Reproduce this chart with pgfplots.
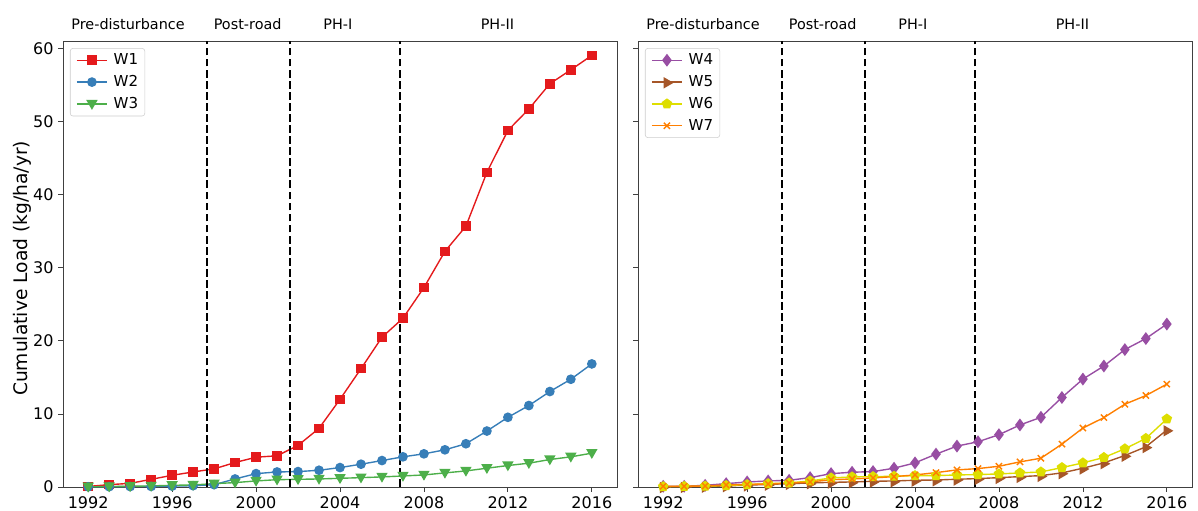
\documentclass[border=0pt]{standalone}
\usepackage{fontspec}
\setmainfont{DejaVu Sans}
\usepackage{pgfplots}
\pgfplotsset{compat=1.18}
\definecolor{cW1}{HTML}{E41A1C}
\definecolor{cW2}{HTML}{377EB8}
\definecolor{cW3}{HTML}{4DAF4A}
\definecolor{cW4}{HTML}{984EA3}
\definecolor{cW5}{HTML}{A65628}
\definecolor{cW6}{HTML}{DEDE00}
\definecolor{cW7}{HTML}{FF7F00}
\pgfplotsset{
  panel/.style={
    scale only axis, width=415.5pt, height=334.5pt,
    xmin=1990.8, xmax=2017.2, ymin=0, ymax=61.05,
    xtick={1992,1996,...,2016}, ytick={0,10,...,60},
    tick align=outside, tick pos=left, major tick length=3.6pt,
    minor tick num=0,
    /pgf/number format/assume math mode=true,
    /pgf/number format/1000 sep={},
    tick label style={font=\fontsize{12}{14}\selectfont},
    axis line style={black!75, line width=0.6pt},
    every tick/.style={black!75, line width=0.6pt},
    clip=false,
    legend style={at={(0.0126,0.984)}, anchor=north west, draw=black!20,
      rounded corners=2pt, fill=white,
      font=\fontsize{11.3}{13}\selectfont, cells={anchor=west}, row sep=2.6pt},
    legend image code/.code={\draw[mark repeat=2,mark phase=2] plot coordinates {(0pt,0pt)(11.25pt,0pt)(22.5pt,0pt)};
      \path (-1.5pt,0pt) (25pt,0pt);},
  },
  ser/.style={color=#1, line width=1.04pt, mark options={solid, fill=#1, draw=#1}},
  vline/.style={black, line width=1.56pt, dash pattern=on 5.8pt off 2.5pt, forget plot, mark=none},
}
\newcommand{\phaselabels}{%
  \node[anchor=base, font=\fontsize{10.8}{12}\selectfont] at (axis cs:1993.9,62.6) {Pre-disturbance};
  \node[anchor=base, font=\fontsize{10.8}{12}\selectfont] at (axis cs:1999.6,62.6) {Post-road};
  \node[anchor=base, font=\fontsize{10.8}{12}\selectfont] at (axis cs:2003.9,62.6) {PH-I};
  \node[anchor=base, font=\fontsize{10.8}{12}\selectfont] at (axis cs:2011.5,62.6) {PH-II};
}
\newcommand{\vlines}{%
  \addplot[vline] coordinates {(1997.65,0) (1997.65,61.05)};
  \addplot[vline] coordinates {(2001.6,0) (2001.6,61.05)};
  \addplot[vline] coordinates {(2006.85,0) (2006.85,61.05)};
}
\begin{document}
\begin{tikzpicture}
\useasboundingbox (-47.25pt,-17.25pt) rectangle (851.25pt,365.25pt);
\begin{axis}[panel, at={(0,0)}, anchor=south west,
  ylabel={Cumulative Load (kg/ha/yr)},
  ylabel style={at={(axis description cs:-0.074,0.49)}, anchor=center, font=\fontsize{14}{16}\selectfont}]
\addplot[ser=cW1, mark=square*, mark size=3.1pt] coordinates {
(1992,0.08) (1993,0.32) (1994,0.5) (1995,1.05) (1996,1.6) (1997,2.06) (1998,2.48)
(1999,3.35) (2000,4.08) (2001,4.27) (2002,5.69) (2003,8.03) (2004,12.0) (2005,16.2)
(2006,20.5) (2007,23.1) (2008,27.3) (2009,32.25) (2010,35.7) (2011,43.07) (2012,48.8)
(2013,51.74) (2014,55.2) (2015,57.1) (2016,59.08)};
\addlegendentry{W1}
\addplot[ser=cW2, mark=*, mark size=3.1pt] coordinates {
(1992,0.03) (1993,0.04) (1994,0.06) (1995,0.08) (1996,0.12) (1997,0.18) (1998,0.32)
(1999,1.1) (2000,1.83) (2001,2.06) (2002,2.11) (2003,2.29) (2004,2.66) (2005,3.12)
(2006,3.62) (2007,4.13) (2008,4.54) (2009,5.09) (2010,5.92) (2011,7.66) (2012,9.54)
(2013,11.15) (2014,13.07) (2015,14.75) (2016,16.85)};
\addlegendentry{W2}
\addplot[ser=cW3, mark=triangle*, mark size=3.9pt, mark options={rotate=180, yshift=-0.6pt}] coordinates {
(1992,0.03) (1993,0.06) (1994,0.1) (1995,0.15) (1996,0.23) (1997,0.28) (1998,0.46)
(1999,0.6) (2000,0.83) (2001,1.0) (2002,1.05) (2003,1.1) (2004,1.19) (2005,1.28)
(2006,1.38) (2007,1.51) (2008,1.65) (2009,1.93) (2010,2.2) (2011,2.57) (2012,2.94)
(2013,3.26) (2014,3.76) (2015,4.13) (2016,4.63)};
\addlegendentry{W3}
\vlines
\phaselabels
\end{axis}
\begin{axis}[panel, at={(431.25pt,0)}, anchor=south west, yticklabels={}]
\addplot[ser=cW4, mark=diamond*, mark size=4pt] coordinates {
(1992,0.1) (1993,0.1) (1994,0.23) (1995,0.46) (1996,0.69) (1997,0.83) (1998,0.92)
(1999,1.28) (2000,1.83) (2001,2.02) (2002,2.11) (2003,2.57) (2004,3.3) (2005,4.5)
(2006,5.6) (2007,6.19) (2008,7.16) (2009,8.49) (2010,9.54) (2011,12.25) (2012,14.77)
(2013,16.56) (2014,18.81) (2015,20.32) (2016,22.3)};
\addlegendentry{W4}
\addplot[ser=cW5, mark=triangle*, mark size=3.9pt, mark options={rotate=-90, xshift=0.6pt}] coordinates {
(1992,0.03) (1993,0.05) (1994,0.08) (1995,0.15) (1996,0.25) (1997,0.35) (1998,0.46)
(1999,0.55) (2000,0.64) (2001,0.69) (2002,0.78) (2003,0.83) (2004,0.92) (2005,0.96)
(2006,1.06) (2007,1.15) (2008,1.28) (2009,1.42) (2010,1.56) (2011,1.93) (2012,2.57)
(2013,3.3) (2014,4.31) (2015,5.5) (2016,7.8)};
\addlegendentry{W5}
\addplot[ser=cW6, mark=pentagon*, mark size=3.5pt] coordinates {
(1992,0.05) (1993,0.08) (1994,0.12) (1995,0.2) (1996,0.32) (1997,0.46) (1998,0.55)
(1999,0.83) (2000,1.24) (2001,1.38) (2002,1.42) (2003,1.47) (2004,1.56) (2005,1.56)
(2006,1.65) (2007,1.7) (2008,1.79) (2009,1.93) (2010,2.06) (2011,2.66) (2012,3.3)
(2013,4.04) (2014,5.23) (2015,6.65) (2016,9.31)};
\addlegendentry{W6}
\addplot[ser=cW7, mark=x, mark size=3.3pt] coordinates {
(1992,0.1) (1993,0.1) (1994,0.14) (1995,0.28) (1996,0.37) (1997,0.41) (1998,0.55)
(1999,0.69) (2000,1.0) (2001,1.1) (2002,1.24) (2003,1.42) (2004,1.65) (2005,1.97)
(2006,2.34) (2007,2.52) (2008,2.84) (2009,3.44) (2010,3.94) (2011,5.87) (2012,8.07)
(2013,9.5) (2014,11.33) (2015,12.52) (2016,14.08)};
\addlegendentry{W7}
\vlines
\phaselabels
\end{axis}
\end{tikzpicture}
\end{document}
